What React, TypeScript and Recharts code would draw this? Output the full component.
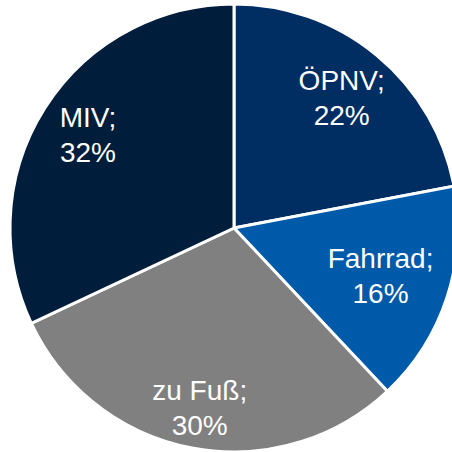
import { Cell, Pie, PieChart } from 'recharts';

// Modal split, clockwise from 12 o'clock
const modes = ['ÖPNV', 'Fahrrad', 'zu Fuß', 'MIV'];
const shares = [22, 16, 30, 32];
const colors = ['#002D62', '#005AAA', '#808080', '#001E3C'];

// label distance from centre, as fraction of the radius (best-fit placement)
const labelRadius = [0.754, 0.688, 0.817, 0.772];

const data = modes.map((name, i) => ({ name, value: shares[i] }));

const RAD = Math.PI / 180;

function renderLabel(props: any) {
  const { cx, cy, midAngle, outerRadius, index, name, value } = props;
  const r = outerRadius * labelRadius[index];
  const x = cx + r * Math.cos(-midAngle * RAD);
  const y = cy + r * Math.sin(-midAngle * RAD);
  return (
    <text
      x={x}
      y={y}
      fill='#ffffff'
      textAnchor='middle'
      fontFamily='"Liberation Sans", Arial, sans-serif'
      fontSize={28}
    >
      <tspan x={x} y={y - 8}>
        {name};
      </tspan>
      <tspan x={x} y={y + 27}>
        {value}%
      </tspan>
    </text>
  );
}

export default function App() {
  return (
    <div style={{ width: 452, height: 452, background: '#ffffff' }}>
      <style>{'body{margin:0}'}</style>
      <PieChart
        width={452}
        height={452}
        margin={{ top: 0, right: 0, bottom: 0, left: 0 }}
      >
        <Pie
          data={data}
          dataKey='value'
          nameKey='name'
          cx={234}
          cy={228}
          outerRadius={224}
          startAngle={90}
          endAngle={-270}
          stroke='#ffffff'
          strokeWidth={3}
          label={renderLabel}
          labelLine={false}
          isAnimationActive={false}
        >
          {data.map((d, i) => (
            <Cell key={d.name} fill={colors[i]} />
          ))}
        </Pie>
      </PieChart>
    </div>
  );
}
